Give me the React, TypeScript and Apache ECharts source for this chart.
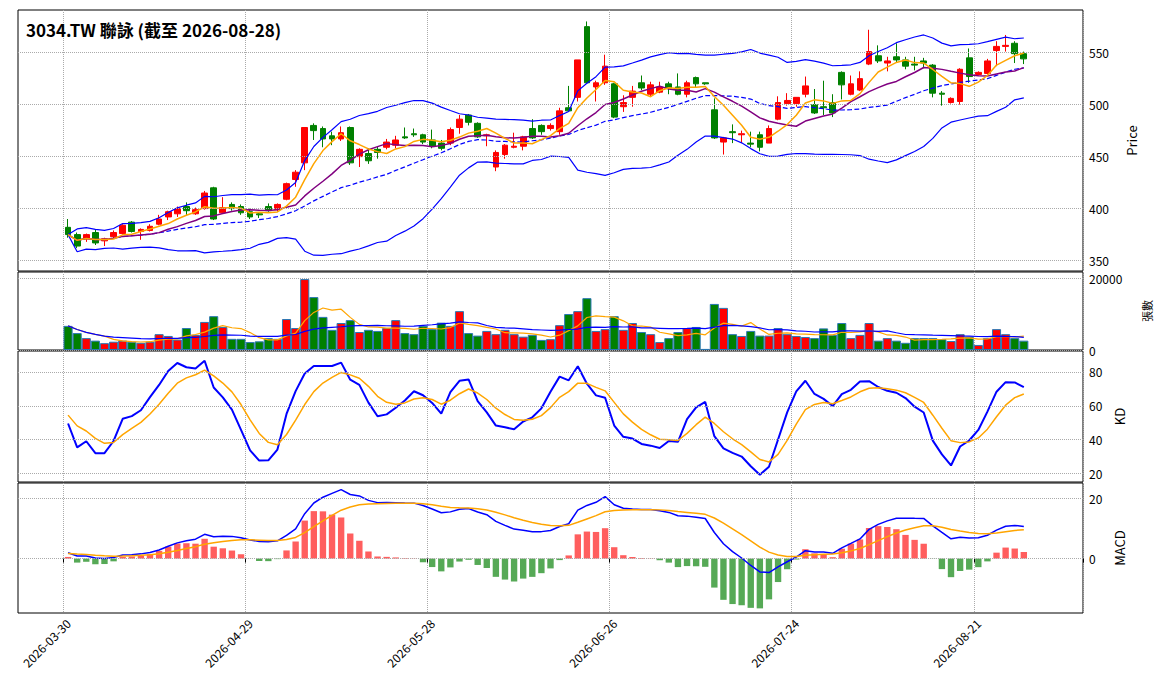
import React, { useEffect, useRef } from "react";
import * as echarts from "echarts";

const TITLE = "3034.TW 聯詠 (截至 2026-08-28)";
const HOLIDAYS = ["2026-04-03", "2026-04-06", "2026-05-01", "2026-06-19"];
// [open, high, low, close]
const OHLC: number[][] = [
[382,390,372,375],[375,377,362,364],[371,376,368,375],[377,380,365,367],[369,372,364,371],
[373,379,371,377],[376,385,375,384],[387,388,377,378],[378,381,370,380],[379,385,378,383],
[385,394,384,390],[392,398,389,397],[395,402,392,400],[402,406,394,398],[395,401,394,399],
[400,417,399,415],[420,421,389,390],[396,411,395,401],[404,406,398,400],[402,404,394,396],
[397,400,390,392],[395,396,391,394],[402,405,397,398],[399,405,397,404],[409,425,408,424],
[428,437,421,435],[444,478,437,478],[480,482,466,475],[477,479,459,467],[470,474,461,467],
[467,479,465,473],[478,479,442,444],[450,458,440,457],[453,458,443,446],[457,460,448,454],
[459,467,457,464],[461,470,458,466],[469,478,467,468],[472,477,469,471],[471,472,462,464],
[466,476,458,460],[463,466,456,458],[463,478,461,476],[478,490,472,486],[490,491,480,483],
[482,483,468,469],[470,472,460,471],[440,456,436,454],[452,462,448,461],[459,473,458,460],
[460,470,456,469],[477,486,467,468],[480,481,471,474],[477,482,475,480],[474,497,471,494],
[497,518,493,494],[507,543,503,543],[575,580,520,521],[517,523,503,521],[521,548,519,537],
[520,521,487,488],[498,509,493,502],[507,518,498,513],[521,528,514,516],[510,522,508,519],
[512,522,511,517],[520,522,510,516],[517,530,509,510],[510,523,507,521],[526,527,517,520],
[521,521,519,520],[495,506,467,468],[464,469,452,468],[474,481,463,473],[471,475,463,472],
[463,474,459,462],[471,474,455,459],[463,480,463,477],[486,508,485,502],[501,511,499,504],
[501,507,498,507],[510,527,507,518],[500,515,491,492],[498,523,490,497],[502,510,488,492],
[531,532,505,519],[510,528,509,520],[514,532,513,525],[539,572,538,551],[547,557,540,542],
[540,546,532,542],[546,559,541,543],[543,546,534,537],[539,546,533,538],[542,545,535,540],
[538,539,507,511],[511,513,499,510],[502,507,501,506],[503,535,500,534],[545,554,521,527],
[529,532,528,531],[530,544,529,542],[552,561,537,556],[556,567,551,557],[559,561,540,549],
[549,551,539,544]];
const VOLUME = [6700,4700,3300,2600,1900,2300,2600,2300,2000,2300,4400,3900,2900,6100,4200,7800,9400,6400,3100,3100,
2200,2400,3300,3100,8600,6100,19700,14700,9200,5600,7500,8300,5000,5600,5300,6100,8300,4700,4400,6700,
5800,7600,6700,10800,4700,4000,5300,4400,5600,4400,3700,4200,2800,3000,6900,10000,10800,14400,5300,5800,
9400,5600,7500,5000,4400,2200,3300,5000,6100,6400,300,12800,11700,4400,3900,5300,4000,4000,6100,4400,
3900,3600,3300,6000,4200,7500,3300,4200,7500,2600,3300,2600,2000,3300,3300,3300,3000,2500,4400,3700,
1400,3300,5800,4400,3300,2600];
const PRICE_TICKS = [350, 400, 450, 500, 550];
const VOL_TICKS = [0, 20000];
const KD_TICKS = [20, 40, 60, 80];
const MACD_TICKS = [0, 20];
const K_START = 66, D_START = 57;
const DIF_START = 2.2, DEA_START = 1.6;

const PADL = 5, PADR = 6;
const FONT = "Noto Sans CJK TC";

function tradingDays(n: number) {
  const out: string[] = [];
  const d = new Date(Date.UTC(2026, 2, 30));
  while (out.length < n) {
    const wd = d.getUTCDay();
    const s = d.toISOString().slice(0, 10);
    if (wd !== 0 && wd !== 6 && !HOLIDAYS.includes(s)) out.push(s);
    d.setUTCDate(d.getUTCDate() + 1);
  }
  return out;
}
const sma = (a: number[], n: number) => a.map((_, i) => {
  const s = a.slice(Math.max(0, i - n + 1), i + 1);
  return s.reduce((x, y) => x + y, 0) / s.length;
});
const std = (a: number[], n: number) => a.map((_, i) => {
  const s = a.slice(Math.max(0, i - n + 1), i + 1);
  const m = s.reduce((x, y) => x + y, 0) / s.length;
  return Math.sqrt(s.reduce((x, y) => x + (y - m) * (y - m), 0) / s.length);
});
const ema = (a: number[], n: number, start?: number) => {
  const k = 2 / (n + 1); const o: number[] = [];
  a.forEach((v, i) => {
    const prev = i === 0 ? (start === undefined ? v : start) : o[i - 1];
    o.push(i === 0 && start === undefined ? v : prev + k * (v - prev));
  });
  return o;
};

export default function App() {
  const ref = useRef<HTMLDivElement>(null);
  useEffect(() => {
    document.body.style.margin = "0";
    const chart = echarts.init(ref.current!, undefined, { renderer: "svg" });
    const N = OHLC.length;
    const dates = tradingDays(N);
    const cats = [...Array(PADL).fill("").map((_, i) => "l" + i), ...dates, ...Array(PADR).fill("").map((_, i) => "r" + i)];
    const pad = (a: any[]) => [...Array(PADL).fill("-"), ...a, ...Array(PADR).fill("-")];
    const close = OHLC.map((r) => r[3]);
    const high = OHLC.map((r) => r[1]);
    const low = OHLC.map((r) => r[2]);
    const ma5 = sma(close, 5), ma10 = sma(close, 10), ma20 = sma(close, 20), sd = std(close, 20);
    const up = ma20.map((m, i) => m + 2 * sd[i]), dn = ma20.map((m, i) => m - 2 * sd[i]);
    const vma5 = sma(VOLUME, 5), vma20 = sma(VOLUME, 20);
    const K: number[] = [], D: number[] = [];
    close.forEach((c, i) => {
      const hh = Math.max(...high.slice(Math.max(0, i - 8), i + 1));
      const ll = Math.min(...low.slice(Math.max(0, i - 8), i + 1));
      const rsv = hh === ll ? 50 : ((c - ll) / (hh - ll)) * 100;
      const pk = i ? K[i - 1] : K_START, pd = i ? D[i - 1] : D_START;
      K.push((2 / 3) * pk + rsv / 3); D.push((2 / 3) * pd + K[i] / 3);
    });
    const e12 = ema(close, 12, close[0] + DIF_START * 0.55);
    const e26 = ema(close, 26, close[0] - DIF_START * 0.45);
    const dif = e12.map((v, i) => v - e26[i]);
    const dea = ema(dif, 9, DEA_START);
    const hist = dif.map((v, i) => v - dea[i]);
    const isUp = OHLC.map((r) => r[3] >= r[0]);

    const lefts = 18, rights = 81;
    const grids = [
      { top: 10, height: 261 }, { top: 272, height: 78 }, { top: 351, height: 131 }, { top: 483, height: 130 },
    ].map((g) => ({ ...g, left: lefts, right: rights, show: true, borderColor: "#000", borderWidth: 1, backgroundColor: "transparent" }));
    const realIdx = (i: number) => i >= PADL && i < PADL + N && (i - PADL) % 20 === 0;
    const xAxes = grids.map((_, gi) => ({
      type: "category", gridIndex: gi, data: cats, boundaryGap: true,
      axisLine: { show: false },
      axisTick: { show: gi === 3, interval: (i: number) => realIdx(i), length: 4, lineStyle: { color: "#000" } },
      axisLabel: { show: gi === 3, interval: (i: number) => realIdx(i), rotate: 45, fontFamily: FONT, fontSize: 12, color: "#000", margin: 8 },
      splitLine: { show: true, interval: (i: number) => realIdx(i), lineStyle: { type: "dotted", color: "#aaa" } },
    }));
    const yAx = (gi: number, min: number, max: number, interval: number, ticks: number[], name: string, nameGap: number, nameSize = 13) => ({
      type: "value", gridIndex: gi, position: "right", min, max, interval, scale: true,
      name, nameLocation: "middle", nameGap, nameRotate: 90,
      nameTextStyle: { fontFamily: FONT, fontSize: nameSize, color: "#000" },
      axisLine: { show: false }, axisTick: { show: false }, splitLine: { show: false },
      axisLabel: { fontFamily: FONT, fontSize: 12, color: "#000", margin: 6, formatter: (v: number) => (ticks.includes(Math.round(v)) && Math.abs(v - Math.round(v)) < 1e-6 ? String(Math.round(v)) : "") },
    });
    const yAxes = [
      yAx(0, 340, 591, 10, PRICE_TICKS, "Price", 42),
      yAx(1, 0, 21670, 20000, VOL_TICKS, "張數", 58, 11),
      yAx(2, 15, 92.4, 5, KD_TICKS, "KD", 30),
      yAx(3, -18, 25, 2, MACD_TICKS, "MACD", 30),
    ];
    const gridML = (ticks: number[]) => ({
      silent: true, symbol: "none", label: { show: false },
      lineStyle: { type: "dotted", color: "#aaa", width: 1 },
      data: ticks.map((t) => ({ yAxis: t })),
    });
    const line = (gi: number, data: number[], color: string, width: number, type = "solid", extra: any = {}) => ({
      type: "line", xAxisIndex: gi, yAxisIndex: gi, data: pad(data), symbol: "none", showSymbol: false,
      lineStyle: { color, width, type }, itemStyle: { color }, z: 3, ...extra,
    });
    const series: any[] = [
      {
        type: "candlestick", xAxisIndex: 0, yAxisIndex: 0, barWidth: "68%",
        data: pad(OHLC.map((r) => [r[0], r[3], r[2], r[1]])),
        itemStyle: { color: "#ff0000", color0: "#008000", borderColor: "#ff0000", borderColor0: "#008000", borderWidth: 1 },
        markLine: gridML(PRICE_TICKS),
      },
      line(0, up, "#0000ff", 1.2),
      line(0, dn, "#0000ff", 1.2),
      line(0, ma20, "#0000ff", 1.2, "dashed"),
      line(0, ma10, "#800080", 1.5),
      line(0, ma5, "#ffa500", 1.5),
      {
        type: "bar", xAxisIndex: 1, yAxisIndex: 1, barWidth: "100%",
        data: pad(VOLUME.map((v, i) => ({ value: v, itemStyle: { color: isUp[i] ? "#ff0000" : "#008000", borderColor: "#2a77b4", borderWidth: 1 } }))),
        markLine: gridML(VOL_TICKS),
      },
      line(1, vma5, "#ffa500", 1.2),
      line(1, vma20, "#0000ff", 1.2),
      line(2, K, "#0000ff", 2, "solid", { markLine: gridML(KD_TICKS) }),
      line(2, D, "#ffa500", 1.5),
      {
        type: "bar", xAxisIndex: 3, yAxisIndex: 3, barWidth: "70%",
        data: pad(hist.map((v) => ({ value: v * 2, itemStyle: { color: v >= 0 ? "rgba(255,40,40,0.75)" : "rgba(30,140,30,0.75)" } }))),
        markLine: gridML(MACD_TICKS),
      },
      line(3, dif, "#0000ff", 1.5),
      line(3, dea, "#ffa500", 1.5),
    ];
    chart.setOption({
      animation: false,
      title: { text: TITLE, left: 21, top: 16, textStyle: { fontFamily: FONT, fontSize: 17, fontWeight: "bold", color: "#000" } },
      grid: grids, xAxis: xAxes, yAxis: yAxes, series,
    });
    return () => chart.dispose();
  }, []);
  return <div ref={ref} style={{ width: 1164, height: 698 }} />;
}
